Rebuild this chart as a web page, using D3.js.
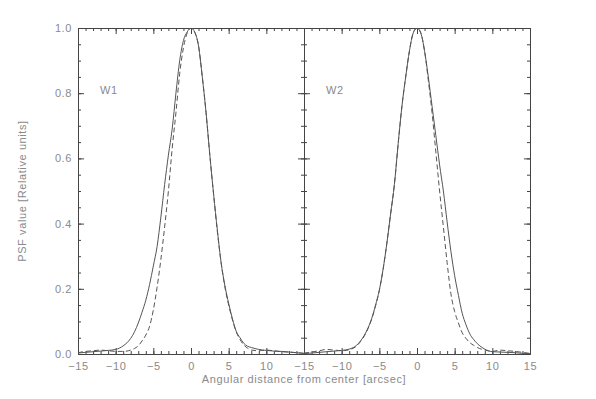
<!DOCTYPE html>
<html>
<head>
<meta charset="utf-8">
<script src="https://cdn.jsdelivr.net/npm/d3@7"></script>
<style>
  body { margin: 0; background: #fff; }
  text { font-family: "Liberation Sans", Arial, sans-serif; fill: #8a8a8a; letter-spacing: 0.6px; }
</style>
</head>
<body>
<div id="chart"></div>
<script>

// common x grid (arcsec) and the four profiles
var xGrid = [-15,-14,-13,-12,-11,-10,-9,-8,-7.5,-7,-6.5,-6,-5.5,-5,-4.5,-4,-3.5,-3,-2.5,-2,-1.5,-1,-0.5,0,
             0.5,1,1.5,2,2.5,3,3.5,4,4.5,5,5.5,6,6.5,7,7.5,8,9,10,11,12,13,14,15]

var w1Solid = [0.003,0.005,0.007,0.009,0.011,0.014,0.025,0.048,0.068,0.095,0.128,0.165,0.213,0.27,0.33,0.42,0.52,0.61,0.69,0.80,0.90,0.962,0.988,1.0,
               0.987,0.945,0.85,0.74,0.61,0.49,0.38,0.28,0.21,0.155,0.108,0.07,0.05,0.033,0.024,0.02,0.014,0.011,0.009,0.008,0.006,0.004,0.002]
var w1Dashed = [0.004,0.008,0.01,0.012,0.01,0.008,0.008,0.012,0.017,0.025,0.04,0.058,0.085,0.135,0.205,0.29,0.39,0.50,0.63,0.74,0.86,0.94,0.985,1.0,
                0.987,0.945,0.85,0.74,0.61,0.49,0.375,0.28,0.205,0.15,0.105,0.068,0.045,0.028,0.018,0.012,0.01,0.012,0.01,0.007,0.006,0.004,0.002]
var w2Solid = [0.001,0.003,0.005,0.007,0.009,0.011,0.015,0.027,0.04,0.057,0.08,0.11,0.15,0.196,0.26,0.34,0.43,0.52,0.645,0.76,0.85,0.93,0.985,1.0,
               0.985,0.93,0.85,0.76,0.67,0.58,0.50,0.405,0.315,0.24,0.18,0.125,0.09,0.062,0.045,0.032,0.015,0.007,0.006,0.005,0.004,0.002,0.001]
var w2Dashed = [0.003,0.006,0.01,0.014,0.012,0.01,0.013,0.025,0.038,0.055,0.078,0.108,0.148,0.195,0.26,0.34,0.43,0.52,0.645,0.76,0.85,0.93,0.985,1.0,
                0.985,0.93,0.84,0.74,0.62,0.50,0.39,0.28,0.185,0.13,0.095,0.065,0.048,0.035,0.027,0.02,0.012,0.008,0.012,0.01,0.008,0.005,0.002]

var panelNames = ["W1", "W2"]
var xMajor1 = [-15,-10,-5,0,5,10]
var xMajor2 = [-15,-10,-5,0,5,10,15]
var yMajor = [0,0.2,0.4,0.6,0.8,1.0]

var margin = {top: 28, left: 78},
    panelW = 226,
    height = 326

var svg = d3.select("#chart")
  .append("svg")
    .attr("width", 596)
    .attr("height", 399)

var x = d3.scaleLinear().domain([-15, 15]).range([0, panelW])
var y = d3.scaleLinear().domain([0, 1.0]).range([height, 0])

var xMinor = d3.range(-15, 15.01, 1)
var yMinor = d3.range(0, 1.001, 0.05)

var panels = [
  {name: panelNames[0], solid: w1Solid, dashed: w1Dashed, labels: xMajor1},
  {name: panelNames[1], solid: w2Solid, dashed: w2Dashed, labels: xMajor2}
]

var line = d3.line()
  .x(function(d) { return x(d[0]) })
  .y(function(d) { return y(d[1]) })
  .curve(d3.curveMonotoneX)

svg.append("clipPath").attr("id", "clip")
  .append("rect").attr("width", panelW).attr("height", height)

function styleAxis(g) {
  g.selectAll("path, line").attr("stroke", "#444").attr("stroke-width", 1)
  g.selectAll("text").attr("fill", "#8a8a8a").style("font-size", "11px")
    .style("font-family", "'Liberation Sans', Arial, sans-serif")
}

panels.forEach(function(p, i) {
  var g = svg.append("g")
    .attr("transform", "translate(" + (margin.left + i * panelW) + "," + margin.top + ")")

  // bottom: minor + major ticks pointing inward
  g.append("g").attr("transform", "translate(0," + height + ")")
    .call(d3.axisBottom(x).tickValues(xMinor).tickSize(-3).tickSizeOuter(0).tickFormat(""))
    .call(styleAxis)
  g.append("g").attr("transform", "translate(0," + height + ")")
    .call(d3.axisBottom(x).tickValues(p.labels).tickSize(-6).tickSizeOuter(0).tickPadding(8)
      .tickFormat(function(d) { return d < 0 ? "\u2212" + Math.abs(d) : d }))
    .call(styleAxis)
  // top
  g.append("g")
    .call(d3.axisTop(x).tickValues(xMinor).tickSize(-3).tickSizeOuter(0).tickFormat(""))
    .call(styleAxis)
  g.append("g")
    .call(d3.axisTop(x).tickValues(xMajor2).tickSize(-6).tickSizeOuter(0).tickFormat(""))
    .call(styleAxis)

  // left and right sides
  g.append("g")
    .call(d3.axisLeft(y).tickValues(yMinor).tickSize(-3).tickSizeOuter(0).tickFormat(""))
    .call(styleAxis)
  g.append("g")
    .call(d3.axisLeft(y).tickValues(yMajor).tickSize(-6).tickSizeOuter(0).tickPadding(6)
      .tickFormat(i == 0 ? d3.format(".1f") : ""))
    .call(styleAxis)
  g.append("g").attr("transform", "translate(" + panelW + ",0)")
    .call(d3.axisRight(y).tickValues(yMinor).tickSize(-3).tickSizeOuter(0).tickFormat(""))
    .call(styleAxis)
  g.append("g").attr("transform", "translate(" + panelW + ",0)")
    .call(d3.axisRight(y).tickValues(yMajor).tickSize(-6).tickSizeOuter(0).tickFormat(""))
    .call(styleAxis)

  var plot = g.append("g").attr("clip-path", "url(#clip)")

  plot.append("path")
    .datum(xGrid.map(function(v, k) { return [v, p.solid[k]] }))
    .attr("fill", "none")
    .attr("stroke", "#555")
    .attr("stroke-width", 1)
    .attr("d", line)

  plot.append("path")
    .datum(xGrid.map(function(v, k) { return [v, p.dashed[k]] }))
    .attr("fill", "none")
    .attr("stroke", "#555")
    .attr("stroke-width", 1)
    .attr("stroke-dasharray", "5,3")
    .attr("d", line)

  g.append("text")
    .attr("x", 22)
    .attr("y", 66)
    .style("font-size", "11px")
    .text(p.name)
})

svg.append("text")
  .attr("text-anchor", "middle")
  .attr("x", margin.left + panelW)
  .attr("y", 383)
  .style("font-size", "11px")
  .text("Angular distance from center [arcsec]")

svg.append("text")
  .attr("text-anchor", "middle")
  .attr("transform", "translate(26," + (margin.top + height / 2) + ") rotate(-90)")
  .style("font-size", "11px")
  .text("PSF value [Relative units]")

</script>
</body>
</html>
